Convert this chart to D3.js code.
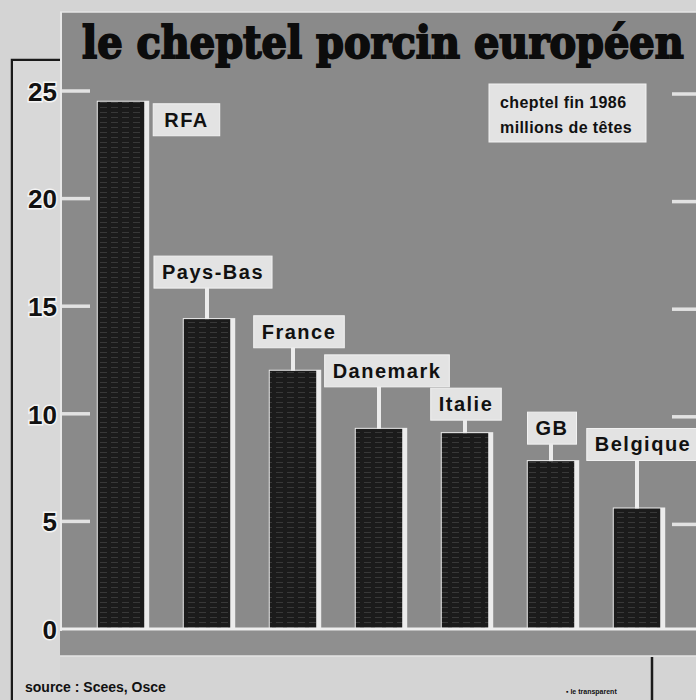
<!DOCTYPE html>
<html>
<head>
<meta charset="utf-8">
<script src="https://cdn.jsdelivr.net/npm/d3@7"></script>
<style>
  html, body { margin: 0; padding: 0; background: #d6d6d6; }
  svg { display: block; }
  .lbl { font-family: "Liberation Sans", Arial, sans-serif; font-weight: bold; }
</style>
</head>
<body>
<svg id="chart"></svg>
<script>
// data (millions of pigs, end of 1986)
const countries = ["RFA", "Pays-Bas", "France", "Danemark", "Italie", "GB", "Belgique"];
const pigs = [24.5, 14.4, 12.0, 9.3, 9.1, 7.8, 5.6];
const yTicks = [0, 5, 10, 15, 20, 25];
const titleText = "le cheptel porcin européen";
const noteLines = ["cheptel fin 1986", "millions de têtes"];
const sourceText = "source : Scees, Osce";

const width = 696, height = 700;
const panelLeft = 60, panelTop = 12, baseY = 629, floorBottom = 656;

// label layout: gap between box and bar top, and box shift from the connector
const labelLift = [0, 31, 23, 42, 13, 17, 48];
const labelShift = [0, 6, 6, 8, 1, 1, 6];

const svg = d3.select("#chart").attr("width", width).attr("height", height);

const x = d3.scaleBand().domain(countries).range([78, 680]).padding(0);
const y = d3.scaleLinear().domain([0, 25]).range([baseY, 91]);
const barW = x.bandwidth() * 0.54;

const defs = svg.append("defs");
const pat = defs.append("pattern")
  .attr("id", "stripes").attr("patternUnits", "userSpaceOnUse")
  .attr("width", 11).attr("height", 5);
pat.append("rect").attr("width", 11).attr("height", 5).attr("fill", "#1b1b1b");
pat.append("line").attr("x1", 1).attr("x2", 8).attr("y1", 2.5).attr("y2", 2.5)
  .attr("stroke", "#383838").attr("stroke-width", 1);

// background frame pieces
svg.append("rect").attr("x", 0).attr("y", 0).attr("width", width).attr("height", height).attr("fill", "#d4d4d4");
svg.append("path").attr("d", `M12,${height} V60 H${panelLeft}`).attr("fill", "none")
  .attr("stroke", "#1a1a1a").attr("stroke-width", 2.5);
svg.append("rect").attr("x", 13).attr("y", 61).attr("width", panelLeft - 13).attr("height", height - 61).attr("fill", "#d8d8d8");

// main grey panel
svg.append("rect").attr("x", panelLeft).attr("y", panelTop)
  .attr("width", width - panelLeft).attr("height", floorBottom - panelTop)
  .attr("fill", "#8a8a8a");
svg.append("line").attr("x1", panelLeft).attr("x2", width).attr("y1", panelTop).attr("y2", panelTop)
  .attr("stroke", "#e6e6e6").attr("stroke-width", 1.5);
svg.append("line").attr("x1", panelLeft + 1).attr("x2", panelLeft + 1).attr("y1", panelTop).attr("y2", floorBottom)
  .attr("stroke", "#e8e8e8").attr("stroke-width", 2);

// floor
svg.append("rect").attr("x", panelLeft).attr("y", baseY + 2).attr("width", width - panelLeft)
  .attr("height", floorBottom - baseY - 2).attr("fill", "#8f8f8f");
svg.append("line").attr("x1", panelLeft).attr("x2", width).attr("y1", floorBottom).attr("y2", floorBottom)
  .attr("stroke", "#e4e4e4").attr("stroke-width", 1.5);

// bottom area
svg.append("line").attr("x1", 652).attr("x2", 652).attr("y1", floorBottom + 1).attr("y2", height)
  .attr("stroke", "#1a1a1a").attr("stroke-width", 2.5);
svg.append("text").attr("class", "lbl").attr("x", 25).attr("y", 692)
  .attr("font-size", 14).attr("fill", "#111").text(sourceText);
svg.append("text").attr("class", "lbl").attr("x", 566).attr("y", 694)
  .attr("font-size", 7).attr("fill", "#111").text("▪ le transparent");

// title, fitted to the panel width
const title = svg.append("text")
  .attr("x", 82).attr("y", 58)
  .attr("font-family", "'DejaVu Serif Condensed', 'DejaVu Serif', serif").attr("font-weight", "bold")
  .attr("font-size", 45).attr("fill", "#0c0c0c")
  .attr("stroke", "#0c0c0c").attr("stroke-width", 1.8)
  .text(titleText);
const natural = title.node().getComputedTextLength();
if (natural < 602) {
  title.attr("textLength", 602).attr("lengthAdjust", "spacingAndGlyphs");
} else {
  title.attr("font-size", 45 * 602 / natural);
}

// left tick marks and labels
const tickG = svg.append("g");
tickG.selectAll("line.lt").data(yTicks.filter(d => d > 0)).join("line")
  .attr("x1", 62).attr("x2", 90).attr("y1", d => y(d)).attr("y2", d => y(d))
  .attr("stroke", "#e2e2e2").attr("stroke-width", 3.5);
tickG.selectAll("line.rt").data(yTicks.filter(d => d > 0)).join("line")
  .attr("x1", 672).attr("x2", width).attr("y1", d => y(d) + 3).attr("y2", d => y(d) + 3)
  .attr("stroke", "#e2e2e2").attr("stroke-width", 3.5);

const axis = svg.append("g").attr("transform", "translate(57,0)")
  .call(d3.axisLeft(y).tickValues(yTicks).tickSize(0).tickPadding(0));
axis.select(".domain").remove();
axis.selectAll("text")
  .attr("class", "lbl").attr("font-size", 26).attr("fill", "#111")
  .attr("dy", "0.36em")
  .attr("stroke", "#f4f4f4").attr("stroke-width", 3).attr("paint-order", "stroke");

// bars
const barG = svg.append("g");
barG.selectAll("rect.edge").data(pigs).join("rect")
  .attr("x", (d, i) => x(countries[i]) + (x.bandwidth() - barW) / 2 - 1)
  .attr("y", d => y(d) - 1)
  .attr("width", barW + 6).attr("height", d => baseY - y(d) + 1)
  .attr("fill", "#ececec");
barG.selectAll("rect.bar").data(pigs).join("rect")
  .attr("x", (d, i) => x(countries[i]) + (x.bandwidth() - barW) / 2)
  .attr("y", d => y(d))
  .attr("width", barW).attr("height", d => baseY - y(d))
  .attr("fill", "url(#stripes)");

// baseline
svg.append("line").attr("x1", panelLeft).attr("x2", width).attr("y1", baseY).attr("y2", baseY)
  .attr("stroke", "#eeeeee").attr("stroke-width", 3);

// labels with connectors
const labG = svg.append("g");
countries.forEach((c, i) => {
  const cx = x(c) + x.bandwidth() / 2;
  const top = y(pigs[i]);
  const g = labG.append("g");
  const t = g.append("text").attr("class", "lbl").attr("font-size", 20)
    .attr("letter-spacing", 1.5).attr("fill", "#111").text(c);
  const tw = t.node().getComputedTextLength();
  const pad = i === 0 ? 11 : 8;
  const bw = tw + 2 * pad, bh = 32;
  let bx, by;
  if (i === 0) {
    bx = cx + barW / 2 + 9;
    by = top + 2;
  } else {
    bx = cx + labelShift[i] - bw / 2;
    by = top - labelLift[i] - bh;
    g.insert("line", "text").attr("x1", cx).attr("x2", cx).attr("y1", by + bh).attr("y2", top)
      .attr("stroke", "#ececec").attr("stroke-width", 4);
  }
  g.insert("rect", "text").attr("x", bx).attr("y", by).attr("width", bw).attr("height", bh)
    .attr("fill", "#e3e3e3").attr("stroke", "#f2f2f2").attr("stroke-width", 1);
  t.attr("x", bx + pad).attr("y", by + bh / 2 + 7);
});

// units note
const note = svg.append("g");
note.append("rect").attr("x", 489).attr("y", 84).attr("width", 157).attr("height", 58)
  .attr("fill", "#e3e3e3").attr("stroke", "#f2f2f2");
note.selectAll("text").data(noteLines).join("text")
  .attr("class", "lbl").attr("x", 500).attr("y", (d, i) => 108 + i * 25)
  .attr("font-size", 16).attr("letter-spacing", 0.4).attr("fill", "#111").text(d => d);
</script>
</body>
</html>
